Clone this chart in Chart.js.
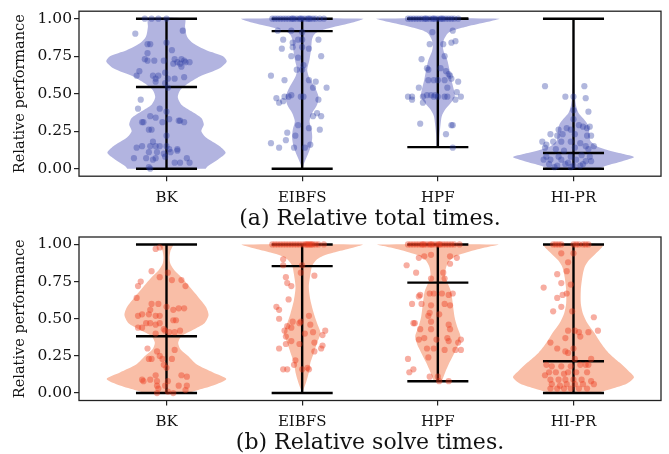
<!DOCTYPE html>
<html>
<head>
<meta charset="utf-8">
<script src="https://cdn.jsdelivr.net/npm/chart.js@4.4.1/dist/chart.umd.min.js"></script>
<style>
  html, body { margin: 0; padding: 0; background: #fff; }
  body { width: 669px; height: 454px; position: relative; overflow: hidden; }
  canvas { position: absolute; left: 0; }
</style>
</head>
<body>
<canvas id="c1" width="669" height="233" style="top:0px"></canvas>
<canvas id="c2" width="669" height="221" style="top:233px"></canvas>
<script>
// ---------------- DATA ----------------
const categories = ['BK', 'EIBFS', 'HPF', 'HI-PR'];
const yTickValues = [0, 0.25, 0.5, 0.75, 1.0];
const captionTotal = '(a) Relative total times.';
const captionSolve = '(b) Relative solve times.';
const yTitle = 'Relative performance';

// extrema / medians
const totalMin = [0, 0, 0.144, 0];
const totalMax = [1, 1, 1, 1];
const totalMedian = [0.545, 0.917, 1.0, 0.105];
const solveMin = [0, 0, 0.08, 0];
const solveMax = [1, 1, 1, 1];
const solveMedian = [0.382, 0.854, 0.743, 0.214];

// violin outlines: [relative performance, half width]
const totalProfileBK = [[1.0,0.135],[0.947,0.137],[0.88,0.152],[0.836,0.196],[0.79,0.294],[0.75,0.417],[0.715,0.444],[0.67,0.392],[0.615,0.245],[0.57,0.162],[0.527,0.103],[0.478,0.083],[0.427,0.11],[0.383,0.184],[0.338,0.257],[0.294,0.275],[0.25,0.257],[0.206,0.294],[0.15,0.392],[0.106,0.436],[0.062,0.38],[0.018,0.306],[0,0.289]];
const totalProfileEIBFS = [[1.0,0.45],[0.985,0.41],[0.97,0.35],[0.955,0.28],[0.94,0.21],[0.925,0.15],[0.91,0.11],[0.89,0.085],[0.86,0.072],[0.8,0.066],[0.726,0.054],[0.659,0.037],[0.615,0.049],[0.549,0.09],[0.482,0.12],[0.427,0.11],[0.372,0.074],[0.316,0.054],[0.261,0.069],[0.206,0.074],[0.15,0.064],[0.084,0.037],[0.029,0.012],[0,0.005]];
const totalProfileHPF = [[1.0,0.453],[0.987,0.40],[0.969,0.32],[0.947,0.21],[0.925,0.12],[0.903,0.074],[0.858,0.044],[0.814,0.037],[0.78,0.044],[0.726,0.069],[0.659,0.086],[0.593,0.1],[0.527,0.118],[0.482,0.125],[0.438,0.095],[0.394,0.054],[0.35,0.029],[0.294,0.02],[0.217,0.012],[0.144,0.01]];
const totalProfileHIPR = [[1.0,0.003],[0.8,0.004],[0.615,0.005],[0.482,0.01],[0.416,0.02],[0.372,0.037],[0.338,0.069],[0.305,0.098],[0.272,0.113],[0.228,0.118],[0.184,0.125],[0.15,0.17],[0.125,0.25],[0.10,0.36],[0.078,0.446],[0.05,0.36],[0.02,0.24],[0,0.19]];

const solveProfileBK = [[1.0,0.047],[0.956,0.029],[0.912,0.022],[0.868,0.029],[0.823,0.061],[0.779,0.11],[0.713,0.172],[0.647,0.233],[0.581,0.29],[0.525,0.31],[0.47,0.28],[0.426,0.196],[0.382,0.11],[0.338,0.086],[0.294,0.103],[0.249,0.159],[0.194,0.221],[0.139,0.343],[0.095,0.441],[0.051,0.343],[0.018,0.221],[0,0.159]];
const solveProfileEIBFS = [[1.0,0.446],[0.989,0.417],[0.967,0.33],[0.945,0.233],[0.923,0.152],[0.9,0.11],[0.857,0.074],[0.801,0.061],[0.713,0.049],[0.625,0.061],[0.536,0.086],[0.47,0.11],[0.404,0.135],[0.338,0.11],[0.272,0.086],[0.205,0.061],[0.139,0.049],[0.073,0.029],[0.029,0.012],[0,0.003]];
const solveProfileHPF = [[1.0,0.446],[0.989,0.40],[0.967,0.294],[0.945,0.21],[0.923,0.135],[0.89,0.086],[0.845,0.061],[0.79,0.054],[0.735,0.074],[0.68,0.098],[0.603,0.11],[0.514,0.123],[0.448,0.142],[0.382,0.167],[0.327,0.152],[0.272,0.123],[0.205,0.086],[0.139,0.054],[0.08,0.029]];
const solveProfileHIPR = [[1.0,0.22],[0.967,0.196],[0.934,0.159],[0.89,0.11],[0.845,0.081],[0.779,0.065],[0.691,0.054],[0.603,0.054],[0.536,0.069],[0.47,0.103],[0.404,0.155],[0.338,0.2],[0.272,0.257],[0.205,0.34],[0.15,0.404],[0.106,0.446],[0.062,0.392],[0.029,0.282],[0,0.172]];

// individual instances: [jitter, relative performance]
const totalPointsBK = [[-0.16,1],[-0.11,1],[-0.06,1],[0,1],[-0.23,0.90],[0.12,0.92],[-0.14,0.83],[-0.12,0.83],[0,0.84],[-0.14,0.77],[0.04,0.79],[-0.16,0.73],[-0.14,0.72],[-0.09,0.72],[-0.02,0.72],[0.06,0.73],[0.08,0.71],[0.11,0.73],[0.13,0.72],[0.17,0.71],[0.14,0.71],[0.05,0.70],[0.10,0.70],[0.11,0.68],[-0.20,0.65],[-0.22,0.62],[-0.10,0.62],[-0.08,0.60],[-0.06,0.62],[-0.01,0.64],[0.01,0.60],[0.06,0.60],[0.13,0.61],[-0.08,0.58],[-0.01,0.57],[0.01,0.54],[-0.19,0.46],[-0.21,0.40],[-0.05,0.40],[-0.12,0.35],[-0.08,0.34],[0,0.38],[-0.18,0.31],[-0.17,0.31],[-0.03,0.31],[0.02,0.33],[0.09,0.32],[0.10,0.32],[0.13,0.31],[-0.13,0.26],[-0.11,0.26],[0,0.22],[-0.10,0.18],[-0.18,0.15],[-0.12,0.15],[-0.08,0.15],[-0.05,0.15],[0,0.15],[0.02,0.13],[0.08,0.13],[-0.22,0.14],[-0.13,0.11],[-0.07,0.11],[-0.02,0.10],[0.03,0.11],[0.08,0.12],[-0.24,0.07],[-0.15,0.07],[-0.10,0.06],[-0.08,0.07],[-0.01,0.08],[0.06,0.04],[0.10,0.04],[0.15,0.07],[0.17,0.04],[-0.13,0.01],[-0.12,0.0]];
const totalPointsEIBFS = [[-0.22,1],[-0.2,1],[-0.18,1],[-0.16,1],[-0.14,1],[-0.12,1],[-0.1,1],[-0.08,1],[-0.06,1],[-0.04,1],[-0.02,1],[0,1],[0.02,1],[0.04,1],[0.06,1],[0.08,1],[0.1,1],[0.13,1],[0.16,1],[-0.07,1],[-0.01,1],[0.05,1],[-0.18,0.92],[-0.08,0.92],[0,0.91],[-0.14,0.86],[-0.07,0.84],[-0.03,0.86],[0,0.86],[0.12,0.86],[-0.15,0.80],[-0.07,0.81],[0,0.81],[0.05,0.80],[-0.08,0.75],[-0.03,0.74],[0.14,0.75],[0.01,0.69],[-0.04,0.66],[0,0.66],[-0.23,0.62],[-0.13,0.59],[0.05,0.59],[0.10,0.58],[0.08,0.54],[0.18,0.54],[-0.08,0.49],[-0.10,0.48],[-0.13,0.48],[-0.19,0.47],[-0.17,0.44],[-0.14,0.45],[-0.01,0.48],[0.01,0.48],[0.12,0.46],[0.08,0.35],[0.11,0.37],[0.14,0.35],[-0.03,0.29],[0.05,0.27],[0.13,0.26],[-0.11,0.24],[-0.05,0.22],[-0.23,0.17],[-0.12,0.19],[-0.17,0.14],[-0.06,0.14],[0.02,0.14],[0.06,0.16]];
const totalPointsHPF = [[-0.22,1],[-0.2,1],[-0.18,1],[-0.16,1],[-0.14,1],[-0.12,1],[-0.1,1],[-0.08,1],[-0.06,1],[-0.04,1],[-0.02,1],[0,1],[0.02,1],[0.04,1],[0.06,1],[0.08,1],[0.1,1],[0.12,1],[0.15,1],[-0.09,1],[-0.03,1],[0.03,1],[-0.04,0.91],[0.11,0.92],[-0.06,0.83],[0.04,0.83],[0.10,0.84],[0.13,0.85],[-0.12,0.73],[0.05,0.75],[-0.08,0.67],[-0.07,0.66],[0.02,0.67],[0.08,0.63],[0.09,0.62],[0.06,0.65],[-0.07,0.59],[-0.03,0.59],[0,0.59],[0.05,0.59],[0.15,0.58],[0.10,0.60],[-0.14,0.54],[0.07,0.54],[-0.19,0.48],[-0.22,0.48],[-0.19,0.46],[-0.11,0.48],[-0.08,0.49],[-0.05,0.49],[-0.03,0.48],[-0.02,0.49],[0,0.48],[0.05,0.48],[0.07,0.48],[0.14,0.51],[0.17,0.48],[0.13,0.46],[-0.11,0.44],[-0.13,0.30],[0.10,0.29],[0.11,0.29],[0.06,0.23],[0.11,0.14]];
const totalPointsHIPR = [[-0.21,0.55],[0.08,0.55],[-0.06,0.48],[0,0.48],[0.09,0.47],[0,0.39],[0.11,0.38],[0,0.33],[0.04,0.29],[0.07,0.28],[0.10,0.27],[0.12,0.28],[-0.05,0.27],[-0.11,0.26],[-0.08,0.23],[-0.02,0.26],[-0.17,0.23],[-0.12,0.22],[0.01,0.23],[0.10,0.22],[0.13,0.22],[-0.23,0.18],[-0.20,0.16],[-0.15,0.18],[-0.09,0.18],[-0.02,0.18],[0.05,0.17],[0.09,0.15],[0.15,0.15],[-0.21,0.14],[-0.13,0.13],[-0.07,0.12],[0.01,0.14],[0.11,0.13],[-0.20,0.08],[-0.11,0.08],[-0.02,0.08],[0.06,0.09],[0.12,0.08],[-0.22,0.06],[-0.17,0.06],[-0.09,0.06],[-0.04,0.04],[0.02,0.06],[0.09,0.05],[0.13,0.05],[-0.18,0.03],[-0.12,0.02],[-0.06,0.03],[0,0.02],[0.07,0.03],[-0.14,0.01],[-0.02,0.01],[0.05,0.02]];

const solvePointsBK = [[-0.08,0.97],[-0.05,0.98],[-0.11,0.82],[-0.05,0.78],[0.01,0.81],[-0.21,0.72],[-0.19,0.75],[0.04,0.76],[0.11,0.76],[0.14,0.72],[-0.22,0.64],[-0.11,0.60],[-0.06,0.60],[-0.12,0.56],[0,0.58],[0.05,0.56],[-0.21,0.52],[-0.18,0.53],[-0.13,0.53],[-0.08,0.52],[-0.05,0.52],[0.09,0.57],[0.13,0.57],[-0.15,0.47],[-0.12,0.47],[-0.08,0.46],[-0.05,0.47],[0.05,0.49],[0.07,0.49],[-0.21,0.44],[-0.18,0.44],[-0.02,0.43],[-0.01,0.42],[0.02,0.41],[0.06,0.41],[0.10,0.42],[-0.08,0.40],[-0.14,0.30],[-0.13,0.23],[-0.11,0.23],[-0.05,0.25],[-0.03,0.23],[0.06,0.29],[0.04,0.23],[-0.07,0.28],[-0.02,0.19],[0,0.17],[-0.18,0.09],[-0.17,0.08],[-0.12,0.09],[-0.08,0.12],[-0.07,0.08],[0.01,0.08],[0.11,0.12],[0.15,0.11],[-0.07,0.05],[-0.06,0.03],[-0.01,0.05],[0.09,0.05],[0.15,0.05],[0.14,0.02],[-0.07,0.0],[0.05,0.0],[0.01,0.01]];
const solvePointsEIBFS = [[-0.22,1],[-0.2,1],[-0.18,1],[-0.16,1],[-0.14,1],[-0.12,1],[-0.1,1],[-0.08,1],[-0.06,1],[-0.04,1],[-0.02,1],[0,1],[0.02,1],[0.04,1],[0.06,1],[0.08,1],[0.1,1],[0.12,1],[0.16,1],[0.03,1],[0.05,1],[0.07,1],[-0.14,0.90],[-0.14,0.86],[0,0.86],[-0.01,0.81],[0.09,0.79],[-0.12,0.78],[-0.11,0.74],[-0.08,0.72],[-0.10,0.63],[-0.19,0.58],[-0.17,0.56],[0.05,0.52],[-0.17,0.50],[-0.07,0.48],[-0.02,0.47],[-0.01,0.48],[0.06,0.46],[-0.11,0.45],[-0.13,0.42],[-0.08,0.44],[-0.12,0.38],[0.02,0.40],[0.08,0.41],[0.17,0.42],[0.15,0.39],[-0.08,0.35],[-0.02,0.33],[-0.12,0.33],[0.09,0.34],[0.15,0.32],[0.14,0.30],[-0.17,0.30],[0.09,0.28],[-0.05,0.22],[-0.06,0.19],[-0.14,0.16],[-0.11,0.16],[0,0.16],[0.05,0.16],[0.04,0.17]];
const solvePointsHPF = [[-0.22,1],[-0.2,1],[-0.18,1],[-0.16,1],[-0.14,1],[-0.12,1],[-0.1,1],[-0.08,1],[-0.06,1],[-0.04,1],[-0.02,1],[0,1],[0.02,1],[0.04,1],[0.06,1],[0.08,1],[0.1,1],[0.12,1],[0.16,1],[-0.11,1],[-0.05,1],[0.01,1],[-0.14,0.91],[-0.10,0.92],[-0.05,0.93],[0.09,0.92],[0.14,0.91],[-0.23,0.86],[0.09,0.87],[-0.16,0.81],[0.04,0.81],[-0.05,0.77],[0.05,0.77],[-0.14,0.65],[-0.13,0.66],[-0.06,0.67],[-0.03,0.67],[0.03,0.67],[0.08,0.66],[0.11,0.67],[-0.19,0.60],[-0.12,0.60],[-0.05,0.59],[0.05,0.60],[0.09,0.59],[-0.06,0.54],[-0.07,0.52],[0.01,0.53],[-0.18,0.47],[-0.17,0.47],[-0.05,0.48],[0.08,0.46],[-0.13,0.43],[0.09,0.43],[-0.05,0.43],[-0.14,0.36],[-0.10,0.37],[-0.01,0.36],[0.07,0.37],[0.08,0.35],[0.17,0.36],[0.15,0.34],[-0.08,0.30],[-0.03,0.30],[0.05,0.29],[0.13,0.29],[0.17,0.29],[-0.22,0.23],[-0.07,0.24],[-0.21,0.14],[-0.18,0.16],[-0.06,0.11],[0,0.11],[0.08,0.08],[0.01,0.08]];
const solvePointsHIPR = [[-0.15,1],[-0.13,1],[-0.11,1],[-0.09,1],[0,1],[0.02,1],[0.04,1],[0.07,1],[0.09,1],[0.11,1],[-0.09,0.94],[0,0.94],[-0.04,0.88],[-0.05,0.82],[-0.12,0.80],[-0.09,0.74],[-0.22,0.71],[-0.02,0.73],[-0.12,0.64],[-0.08,0.66],[-0.05,0.67],[-0.09,0.58],[-0.15,0.55],[-0.01,0.55],[0.15,0.51],[0.18,0.42],[0.11,0.41],[-0.04,0.42],[0.01,0.42],[0.04,0.41],[-0.06,0.37],[0.05,0.38],[-0.17,0.34],[-0.12,0.30],[0,0.30],[-0.06,0.28],[-0.04,0.27],[0.01,0.23],[-0.20,0.19],[-0.16,0.18],[-0.09,0.18],[-0.02,0.18],[0.05,0.19],[0.09,0.19],[0.11,0.19],[0.13,0.23],[-0.18,0.14],[-0.13,0.14],[-0.07,0.13],[-0.04,0.14],[0.02,0.14],[0.10,0.14],[-0.21,0.12],[-0.17,0.09],[-0.11,0.09],[-0.06,0.09],[0,0.09],[0.06,0.09],[0.13,0.08],[-0.16,0.06],[-0.10,0.05],[-0.05,0.06],[0.01,0.06],[0.07,0.06],[0.15,0.06],[-0.17,0.03],[-0.12,0.03],[-0.07,0.03],[-0.02,0.03],[0.04,0.03],[0.10,0.03]];

// ---------------- STYLE ----------------
const FONT = "'DejaVu Serif', serif";
const CAP_HALF = 0.225;
const AXIS_COLOR = '#222';

function violinDatasets(profiles, points, mins, maxs, medians, fillColor, pointColor) {
  const ds = [];
  profiles.forEach((prof, i) => {
    const asc = prof.slice().sort((a, b) => a[0] - b[0]);
    const outline = asc.map(([y, w]) => ({x: i + w, y}))
      .concat(asc.slice().reverse().map(([y, w]) => ({x: i - w, y})));
    ds.push({data: outline, showLine: true, fill: 'shape', backgroundColor: fillColor,
      borderColor: 'rgba(0,0,0,0)', borderWidth: 0, pointRadius: 0, tension: 0.25, order: 3});
  });
  categories.forEach((c, i) => {
    const segs = [
      [{x: i, y: mins[i]}, {x: i, y: maxs[i]}],
      [{x: i - CAP_HALF, y: mins[i]}, {x: i + CAP_HALF, y: mins[i]}],
      [{x: i - CAP_HALF, y: maxs[i]}, {x: i + CAP_HALF, y: maxs[i]}],
      [{x: i - CAP_HALF, y: medians[i]}, {x: i + CAP_HALF, y: medians[i]}]
    ];
    segs.forEach(s => ds.push({data: s, showLine: true, borderColor: '#000', borderWidth: 2.4,
      pointRadius: 0, fill: false, tension: 0, order: 2}));
  });
  points.forEach((pts, i) => {
    ds.push({data: pts.map(([dx, y]) => ({x: i + dx, y})), showLine: false,
      pointRadius: 3.1, pointBorderWidth: 0, pointBackgroundColor: pointColor,
      backgroundColor: pointColor, borderColor: 'rgba(0,0,0,0)', order: 1});
  });
  return ds;
}

const framePlugin = {
  id: 'frame',
  afterDatasetsDraw(chart) {
    const {ctx, chartArea: a} = chart;
    ctx.save();
    ctx.strokeStyle = AXIS_COLOR;
    ctx.lineWidth = 1.3;
    ctx.strokeRect(a.left, a.top, a.right - a.left, a.bottom - a.top);
    ctx.restore();
  }
};

function makeChart(id, datasets, caption, padTop, xAxisH, capPad) {
  return new Chart(document.getElementById(id), {
    type: 'scatter',
    data: {datasets},
    plugins: [framePlugin],
    options: {
      responsive: false, animation: false, devicePixelRatio: 1,
      layout: {padding: {top: padTop, right: 8, left: 0, bottom: 0}},
      plugins: {legend: {display: false}, tooltip: {enabled: false}},
      scales: {
        x: {
          type: 'linear', min: -0.645, max: 3.645,
          afterBuildTicks: s => { s.ticks = categories.map((c, i) => ({value: i})); },
          ticks: {callback: v => categories[v] ?? '', font: {family: FONT, size: 15}, color: '#111',
                  padding: 8, autoSkip: false, maxRotation: 0},
          grid: {drawOnChartArea: false, drawTicks: true, tickLength: 5, color: AXIS_COLOR, lineWidth: 1.2},
          border: {display: false},
          title: {display: true, text: caption, font: {family: FONT, size: 22, lineHeight: 1}, color: '#111',
                  padding: {top: 0, bottom: capPad}},
          afterFit: s => { s.height = xAxisH; s.paddingLeft = 0; s.paddingRight = 0; }
        },
        y: {
          type: 'linear', min: -0.05, max: 1.05,
          afterBuildTicks: s => { s.ticks = yTickValues.map(v => ({value: v})); },
          ticks: {callback: v => Number(v).toFixed(2), font: {family: FONT, size: 15.5}, color: '#111', padding: 2},
          grid: {drawOnChartArea: false, drawTicks: true, tickLength: 5, color: AXIS_COLOR, lineWidth: 1.2},
          border: {display: false},
          title: {display: true, text: yTitle, font: {family: FONT, size: 14.5}, color: '#111',
                  padding: {top: 11.3, bottom: 0}},
          afterFit: s => { s.width = 79; s.paddingTop = 0; s.paddingBottom = 0; }
        }
      }
    }
  });
}

makeChart('c1',
  violinDatasets([totalProfileBK, totalProfileEIBFS, totalProfileHPF, totalProfileHIPR],
    [totalPointsBK, totalPointsEIBFS, totalPointsHPF, totalPointsHIPR],
    totalMin, totalMax, totalMedian, 'rgb(178,180,224)', 'rgba(40,55,160,0.36)'),
  captionTotal, 11.2, 56.8, 2.5);

makeChart('c2',
  violinDatasets([solveProfileBK, solveProfileEIBFS, solveProfileHPF, solveProfileHIPR],
    [solvePointsBK, solvePointsEIBFS, solvePointsHPF, solvePointsHIPR],
    solveMin, solveMax, solveMedian, 'rgb(249,190,167)', 'rgba(235,60,30,0.42)'),
  captionSolve, 2.5, 53.5, 0);
</script>
</body>
</html>
